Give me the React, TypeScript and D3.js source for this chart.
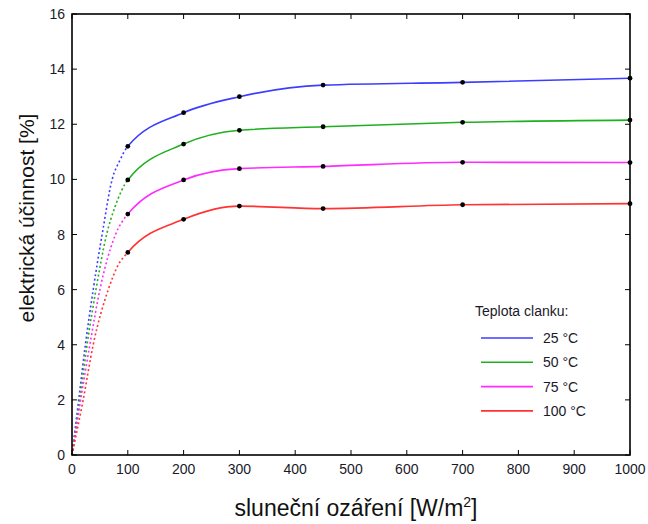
import React from "react";
import * as d3 from "d3";

const W = 648;
const H = 524;

const xTicks = [0, 100, 200, 300, 400, 500, 600, 700, 800, 900, 1000];
const yTicks = [0, 2, 4, 6, 8, 10, 12, 14, 16];

// measured points (irradiance W/m2)
const irradiance = [100, 200, 300, 450, 700, 1000];
const eff25 = [11.2, 12.42, 13.0, 13.42, 13.52, 13.67];
const eff50 = [9.98, 11.28, 11.78, 11.91, 12.07, 12.15];
const eff75 = [8.74, 9.98, 10.39, 10.47, 10.62, 10.61];
const eff100 = [7.35, 8.55, 9.03, 8.94, 9.08, 9.12];

// dashed extrapolation below 100 W/m2
const lowX25 = [0, 12, 24, 38, 54, 72, 86];
const lowY25 = [0, 2, 4, 6, 8, 10, 10.7];
const lowX50 = [0, 14, 27, 43, 62, 77];
const lowY50 = [0, 2, 4, 6, 8, 9];
const lowX75 = [0, 15.5, 32, 50, 78];
const lowY75 = [0, 2, 4, 6, 8];
const lowX100 = [0, 20, 38, 65, 83];
const lowY100 = [0, 2, 4, 6, 6.9];

const seriesNames = ["25 °C", "50 °C", "75 °C", "100 °C"];
const seriesColors = ["#3d3dff", "#1eb01e", "#ff2bff", "#ff3333"];

const series = [
  { name: seriesNames[0], color: seriesColors[0], y: eff25, lx: lowX25, ly: lowY25 },
  { name: seriesNames[1], color: seriesColors[1], y: eff50, lx: lowX50, ly: lowY50 },
  { name: seriesNames[2], color: seriesColors[2], y: eff75, lx: lowX75, ly: lowY75 },
  { name: seriesNames[3], color: seriesColors[3], y: eff100, lx: lowX100, ly: lowY100 },
];

const L = 72, R = 630, T = 14, B = 455;
const FONT = "'Liberation Sans', Arial, Helvetica, sans-serif";

export default function App() {
  const x = d3.scaleLinear().domain([0, 1000]).range([L, R]);
  const y = d3.scaleLinear().domain([0, 16]).range([B, T]);
  const line = d3
    .line<[number, number]>()
    .x((d) => x(d[0]))
    .y((d) => y(d[1]))
    .curve(d3.curveMonotoneX);

  const tl = 5;
  const split = x(irradiance[0]);
  return (
    <svg
      width={W}
      height={H}
      style={{ position: "absolute", left: 0, top: 0, background: "#fff" }}
      fontFamily={FONT}
    >
      <defs>
        <clipPath id="lowClip">
          <rect x={0} y={0} width={split} height={H} />
        </clipPath>
        <clipPath id="highClip">
          <rect x={split} y={0} width={W - split} height={H} />
        </clipPath>
      </defs>
      <rect x={0} y={0} width={W} height={H} fill="#fff" />
      {/* curves */}
      {series.map((s) => {
        const pts: [number, number][] = [
          ...s.lx.map((v, i) => [v, s.ly[i]] as [number, number]),
          ...irradiance.map((v, i) => [v, s.y[i]] as [number, number]),
        ];
        const d = line(pts) || "";
        return (
          <g key={s.name}>
            <path
              d={d}
              fill="none"
              stroke={s.color}
              strokeWidth={1.6}
              strokeDasharray="2,2.5"
              clipPath="url(#lowClip)"
            />
            <path d={d} fill="none" stroke={s.color} strokeWidth={1.6} clipPath="url(#highClip)" />
            {irradiance.map((v, i) => (
              <circle key={i} cx={x(v)} cy={y(s.y[i])} r={2.4} fill="#000" />
            ))}
          </g>
        );
      })}
      {/* frame */}
      <rect x={L} y={T} width={R - L} height={B - T} fill="none" stroke="#000" strokeWidth={1.6} />
      {/* ticks */}
      {xTicks.map((t) => (
        <g key={"x" + t}>
          <line x1={x(t)} x2={x(t)} y1={B} y2={B - tl} stroke="#000" strokeWidth={1} />
          <line x1={x(t)} x2={x(t)} y1={T} y2={T + tl} stroke="#000" strokeWidth={1} />
          <text x={x(t)} y={B + 19} textAnchor="middle" fontSize={14} fill="#1a1a2a">
            {t}
          </text>
        </g>
      ))}
      {yTicks.map((t) => (
        <g key={"y" + t}>
          <line x1={L} x2={L + tl} y1={y(t)} y2={y(t)} stroke="#000" strokeWidth={1} />
          <line x1={R} x2={R - tl} y1={y(t)} y2={y(t)} stroke="#000" strokeWidth={1} />
          <text x={L - 7} y={y(t) + 5} textAnchor="end" fontSize={14} fill="#1a1a2a">
            {t}
          </text>
        </g>
      ))}
      {/* axis labels */}
      <text x={356} y={516} textAnchor="middle" fontSize={23} fill="#111">
        sluneční ozáření [W/m<tspan dy={-9} fontSize={14}>2</tspan>
        <tspan dy={9}>]</tspan>
      </text>
      <text
        transform={`translate(34, 218) rotate(-90)`}
        textAnchor="middle"
        fontSize={21}
        fill="#111"
      >
        elektrická účinnost [%]
      </text>
      {/* legend */}
      <text x={475} y={316} fontSize={14} fill="#1a1a2a">
        Teplota clanku:
      </text>
      {series.map((s, i) => (
        <g key={"lg" + i}>
          <line x1={481} x2={533} y1={338 + i * 24.3} y2={338 + i * 24.3} stroke={s.color} strokeWidth={1.6} />
          <text x={543} y={343 + i * 24.3} fontSize={14} fill="#1a1a2a">
            {s.name}
          </text>
        </g>
      ))}
    </svg>
  );
}
